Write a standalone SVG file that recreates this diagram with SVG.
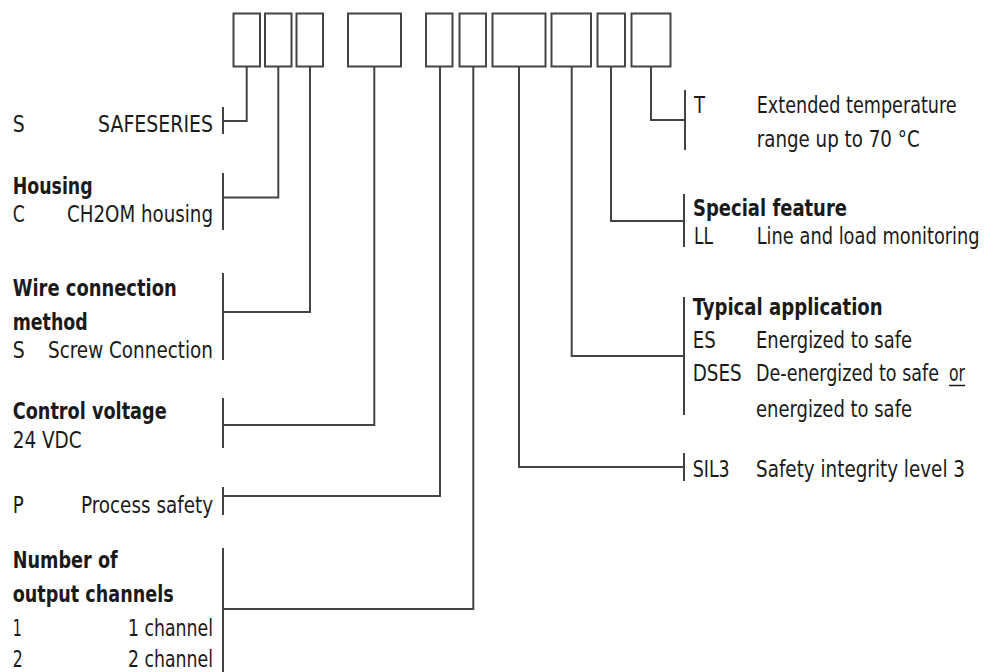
<svg xmlns="http://www.w3.org/2000/svg" width="987" height="672" viewBox="0 0 987 672">
<style>
.bx{fill:#fff;stroke:#444;stroke-width:2}
.ln{fill:none;stroke:#444;stroke-width:2}
.br{fill:none;stroke:#444;stroke-width:2}
text{font-family:"Liberation Sans Narrow","DejaVu Sans Condensed","Liberation Sans",Arial,sans-serif;font-size:22.5px;fill:#1a1a1a}
.b{font-weight:bold}
.e{text-anchor:end}
</style>
<rect width="987" height="672" fill="#fff"/>
<g id="code-boxes">
<rect class="bx" x="233.5" y="13.5" width="26.5" height="53"/>
<rect class="bx" x="265" y="13.5" width="26.5" height="53"/>
<rect class="bx" x="296.5" y="13.5" width="26.5" height="53"/>
<rect class="bx" x="348" y="13.5" width="53" height="53"/>
<rect class="bx" x="426" y="13.5" width="26.5" height="53"/>
<rect class="bx" x="459.5" y="13.5" width="26.5" height="53"/>
<rect class="bx" x="492.5" y="13.5" width="53" height="53"/>
<rect class="bx" x="551.5" y="13.5" width="39.5" height="53"/>
<rect class="bx" x="597.5" y="13.5" width="27.5" height="53"/>
<rect class="bx" x="631.5" y="13.5" width="39" height="53"/>
</g>
<g id="connectors">
<polyline class="ln" points="246.7,66.5 246.7,121 223,121"/>
<polyline class="ln" points="278.3,66.5 278.3,197.5 223,197.5"/>
<polyline class="ln" points="310,66.5 310,312 223,312"/>
<polyline class="ln" points="374.3,66.5 374.3,425 223,425"/>
<polyline class="ln" points="440,66.5 440,496 223,496"/>
<polyline class="ln" points="473.3,66.5 473.3,609 223,609"/>
<polyline class="ln" points="519,66.5 519,467 684,467"/>
<polyline class="ln" points="571.7,66.5 571.7,356 684,356"/>
<polyline class="ln" points="611,66.5 611,221 684,221"/>
<polyline class="ln" points="651,66.5 651,120 685,120"/>
</g>
<g id="brackets">
<line class="br" x1="223" y1="107" x2="223" y2="134"/>
<line class="br" x1="223" y1="173" x2="223" y2="230"/>
<line class="br" x1="223" y1="273" x2="223" y2="360"/>
<line class="br" x1="223" y1="398" x2="223" y2="448"/>
<line class="br" x1="223" y1="487" x2="223" y2="515"/>
<line class="br" x1="223" y1="548" x2="223" y2="672"/>
<line class="br" x1="685" y1="90" x2="685" y2="150"/>
<line class="br" x1="684" y1="194" x2="684" y2="247"/>
<line class="br" x1="684" y1="297" x2="684" y2="415"/>
<line class="br" x1="684" y1="453" x2="684" y2="481"/>
</g>
<g id="series">
<text x="12.7" y="131.5" textLength="12" lengthAdjust="spacingAndGlyphs">S</text>
<text x="213" y="131.5" class="e" textLength="115" lengthAdjust="spacingAndGlyphs">SAFESERIES</text>
</g>
<g id="housing">
<text x="12.7" y="194" class="b" textLength="80" lengthAdjust="spacingAndGlyphs">Housing</text>
<text x="12.7" y="222" textLength="12" lengthAdjust="spacingAndGlyphs">C</text>
<text x="213" y="222" class="e" textLength="146" lengthAdjust="spacingAndGlyphs">CH2OM housing</text>
</g>
<g id="wire">
<text x="12.7" y="296" class="b" textLength="164" lengthAdjust="spacingAndGlyphs">Wire connection</text>
<text x="12.7" y="330" class="b" textLength="75" lengthAdjust="spacingAndGlyphs">method</text>
<text x="12.7" y="358" textLength="12" lengthAdjust="spacingAndGlyphs">S</text>
<text x="213" y="358" class="e" textLength="165" lengthAdjust="spacingAndGlyphs">Screw Connection</text>
</g>
<g id="voltage">
<text x="12.7" y="419" class="b" textLength="154" lengthAdjust="spacingAndGlyphs">Control voltage</text>
<text x="12.7" y="448" textLength="69" lengthAdjust="spacingAndGlyphs">24 VDC</text>
</g>
<g id="process">
<text x="12.7" y="513" textLength="11" lengthAdjust="spacingAndGlyphs">P</text>
<text x="213" y="513" class="e" textLength="132" lengthAdjust="spacingAndGlyphs">Process safety</text>
</g>
<g id="channels">
<text x="12.7" y="568" class="b" textLength="105" lengthAdjust="spacingAndGlyphs">Number of</text>
<text x="12.7" y="602" class="b" textLength="161" lengthAdjust="spacingAndGlyphs">output channels</text>
<text x="12.7" y="636" textLength="9" lengthAdjust="spacingAndGlyphs">1</text>
<text x="213" y="636" class="e" textLength="85" lengthAdjust="spacingAndGlyphs">1 channel</text>
<text x="12.7" y="667" textLength="10" lengthAdjust="spacingAndGlyphs">2</text>
<text x="213" y="667" class="e" textLength="85" lengthAdjust="spacingAndGlyphs">2 channel</text>
</g>
<g id="temperature">
<text x="694" y="112.5" textLength="11" lengthAdjust="spacingAndGlyphs">T</text>
<text x="756.7" y="112.5" textLength="200" lengthAdjust="spacingAndGlyphs">Extended temperature</text>
<text x="756.7" y="146.5" textLength="163" lengthAdjust="spacingAndGlyphs">range up to 70 °C</text>
</g>
<g id="special">
<text x="693" y="216" class="b" textLength="154" lengthAdjust="spacingAndGlyphs">Special feature</text>
<text x="694" y="244" textLength="19" lengthAdjust="spacingAndGlyphs">LL</text>
<text x="756.7" y="244" textLength="223" lengthAdjust="spacingAndGlyphs">Line and load monitoring</text>
</g>
<g id="application">
<text x="692.7" y="315" class="b" textLength="190" lengthAdjust="spacingAndGlyphs">Typical application</text>
<text x="692.7" y="348" textLength="23" lengthAdjust="spacingAndGlyphs">ES</text>
<text x="756" y="348" textLength="156" lengthAdjust="spacingAndGlyphs">Energized to safe</text>
<text x="692.7" y="381" textLength="49" lengthAdjust="spacingAndGlyphs">DSES</text>
<text x="756" y="381" textLength="183" lengthAdjust="spacingAndGlyphs">De-energized to safe</text>
<text x="949" y="381" textLength="16" lengthAdjust="spacingAndGlyphs">or</text>
<line x1="949" y1="385.5" x2="965" y2="385.5" stroke="#1a1a1a" stroke-width="1.5"/>
<text x="756" y="416.5" textLength="156" lengthAdjust="spacingAndGlyphs">energized to safe</text>
</g>
<g id="sil">
<text x="692.7" y="476.5" textLength="37" lengthAdjust="spacingAndGlyphs">SIL3</text>
<text x="756" y="476.5" textLength="209" lengthAdjust="spacingAndGlyphs">Safety integrity level 3</text>
</g>
</svg>
